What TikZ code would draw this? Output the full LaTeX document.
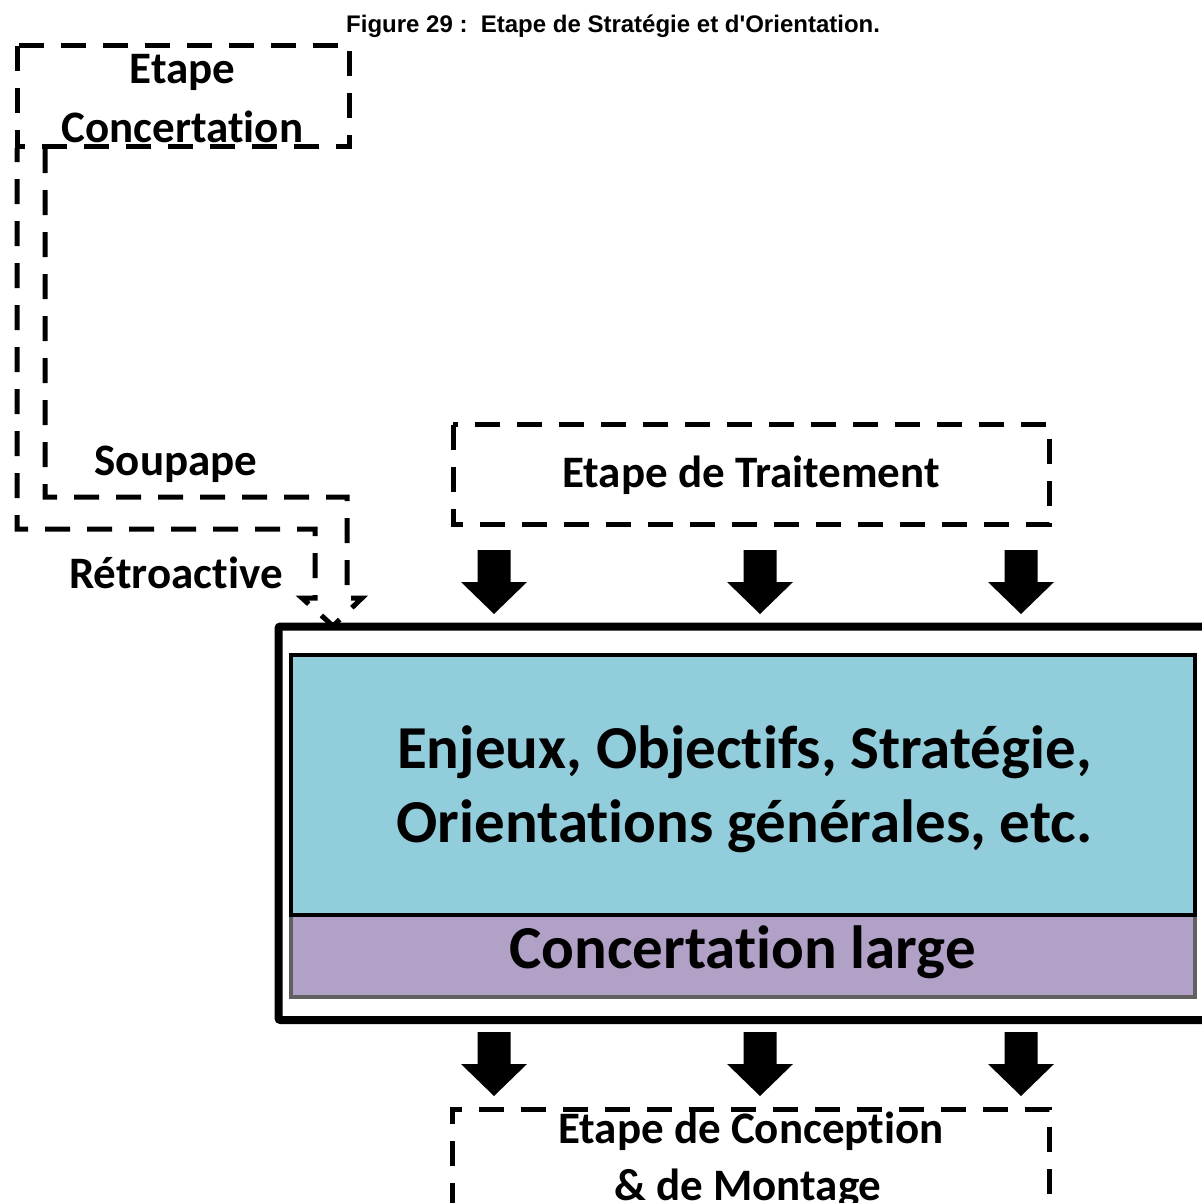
\documentclass[tikz,border=0pt]{standalone}
\usepackage{fontspec}
\newfontfamily\calibrifont[Ligatures=NoCommon]{Carlito}
\newfontfamily\arialfont{Liberation Sans}
\definecolor{enjeuxblue}{HTML}{92CDDC}
\definecolor{largepurple}{HTML}{B2A1C7}
\definecolor{largeedge}{HTML}{606060}
\begin{document}
\begin{tikzpicture}[x=1pt,y=-1pt,
  stagebox/.style={draw=black, line width=5pt, dash pattern=on 25pt off 17pt},
  bigtext/.style={font=\calibrifont\bfseries\fontsize{45}{50}\selectfont, anchor=base, inner sep=0pt},
  hugetext/.style={font=\calibrifont\bfseries\fontsize{61}{74}\selectfont, anchor=base, inner sep=0pt},
  blockdown/.pic={\fill[black] (-16.5,0) -- (16.5,0) -- (16.5,32) -- (33,32) -- (0,64) -- (-33,32) -- (-16.5,32) -- cycle;}
]
\useasboundingbox (0,0) rectangle (1202,1203);
\clip (0,0) rectangle (1202,1203);

% caption
\node[font=\arialfont\bfseries\fontsize{24}{28}\selectfont, anchor=base west, inner sep=0pt]
  (caption) at (346,32) {Figure 29 :\ \ Etape de Stratégie et d'Orientation.};

% upper stage boxes
\draw[stagebox] (17,45.5) rectangle (349.5,146.5);
\node[bigtext] (concA) at (182.5,83) {Etape};
\node[bigtext] (concB) at (182.5,142) {Concertation};

\draw[stagebox] (453,424.5) rectangle (1049,524);
\node[bigtext] (trait) at (751,487) {Etape de Traitement};

% feedback valve: dashed outline of a bent block arrow
\draw[stagebox, line join=miter]
  (45,148) -- (45,497) -- (347,497) -- (347,598) -- (362,598)
  -- (333,626) -- (302,598) -- (315,598) -- (315,529) -- (17,529) -- (17,148);
\node[bigtext] (soupape) at (176,475) {Soupape};
\node[bigtext] (retro) at (176,588) {Rétroactive};

% incoming arrows
\pic at (494,550) {blockdown};
\pic at (760,550) {blockdown};
\pic at (1021,550) {blockdown};

% main frame
\draw[line width=8pt, rounded corners=2pt] (1230,626.5) -- (278.5,626.5) -- (278.5,1020) -- (1230,1020);
\draw[fill=enjeuxblue, draw=black, line width=4pt] (291,655) rectangle (1195,915);
\draw[fill=largepurple, draw=largeedge, line width=4pt] (291,915) -- (291,997) -- (1195,997) -- (1195,915);
\draw[black, line width=4pt] (289,915) -- (1197,915);
\node[hugetext] (enjeuxA) at (744.5,768) {Enjeux, Objectifs, Stratégie,};
\node[hugetext] (enjeuxB) at (744.5,842) {Orientations générales, etc.};
\node[hugetext] (large) at (742.5,968) {Concertation large};

% outgoing arrows
\pic at (494,1032) {blockdown};
\pic at (760,1032) {blockdown};
\pic at (1021,1032) {blockdown};

% lower stage box
\draw[stagebox] (452,1250) -- (452,1109) -- (1049,1109) -- (1049,1250);
\node[bigtext] (concep) at (751,1143) {Etape de Conception};
\node[bigtext] (montage) at (748,1200) {\& de Montage};
\end{tikzpicture}
\end{document}
